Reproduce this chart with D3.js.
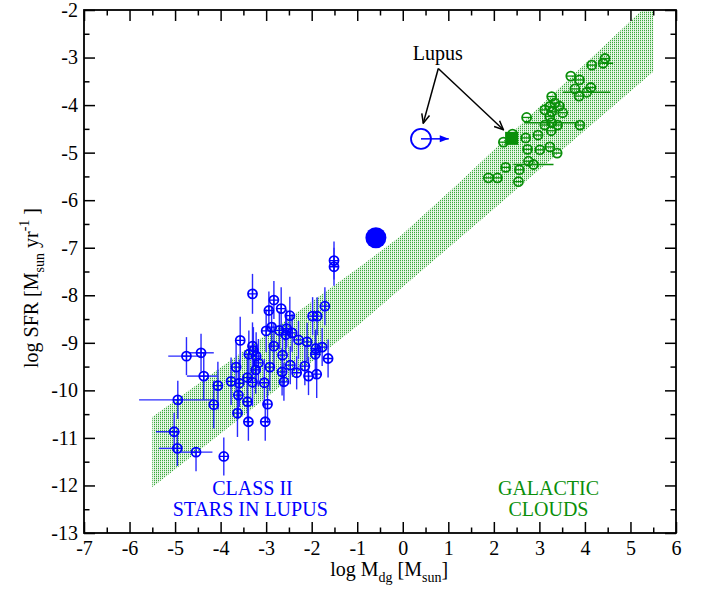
<!DOCTYPE html>
<html>
<head>
<meta charset="utf-8">
<script src="https://cdn.jsdelivr.net/npm/d3@7"></script>
<style>
  body { margin: 0; background: #fff; }
  text { font-family: "Liberation Serif", "Times New Roman", serif; }
</style>
</head>
<body>
<div id="chart"></div>
<script>
// SFR vs dust/gas mass: Class II disks in Lupus and Galactic clouds

// Lupus class II stars (blue)
var blueX = [-1.51, -1.51, -3.30, -2.83, -2.94, -2.67, -2.48, -1.71, -1.98, -1.88,
             -3.00, -2.88, -2.71, -2.55, -2.43, -2.57, -2.29, -2.10, -3.57, -2.83,
             -3.30, -1.91, -1.77, -3.38, -3.22, -3.28, -2.64, -1.92, -1.64, -3.17,
             -3.66, -2.92, -2.47, -2.15, -3.23, -2.65, -2.33, -2.07, -1.89, -3.41,
             -3.30, -3.04, -2.61, -3.77, -3.59, -3.61, -3.41, -2.97, -3.63, -3.39,
             -3.02, -4.06, -4.15, -4.37, -4.43, -4.75, -4.94, -5.02, -4.95, -4.54,
             -3.93];
var blueY = [-7.27, -7.40, -7.97, -8.10, -8.32, -8.28, -8.43, -8.23, -8.44, -8.44,
             -8.75, -8.67, -8.74, -8.70, -8.79, -8.83, -8.94, -8.98, -8.95, -9.07,
             -9.07, -9.12, -9.09, -9.24, -9.28, -9.17, -9.26, -9.24, -9.33, -9.42,
             -9.51, -9.51, -9.47, -9.49, -9.57, -9.61, -9.63, -9.70, -9.66, -9.73,
             -9.83, -9.84, -9.82, -9.81, -9.85, -10.10, -10.24, -10.29, -10.48, -10.66,
             -10.66, -9.90, -10.30, -9.70, -9.21, -9.28, -10.20, -10.87, -11.22, -11.30,
             -11.39];
var blueYErrUp = [0.4, 0.4, 0.42, 0.4, 0.4, 0.45, 0.4, 0.4, 0.4, 0.4,
                  0.45, 0.45, 0.4, 0.4, 0.4, 0.4, 0.4, 0.4, 0.5, 0.5,
                  0.5, 0.4, 0.4, 0.5, 0.5, 0.5, 0.5, 0.5, 0.4, 0.5,
                  0.5, 0.5, 0.4, 0.4, 0.5, 0.5, 0.35, 0.4, 0.5, 0.5,
                  0.5, 0.5, 0.4, 0.5, 0.5, 0.5, 0.5, 0.4, 0.5, 0.4,
                  0.4, 0.5, 0.5, 0.5, 0.4, 0.4, 0.4, 0.4, 0.37, 0,
                  0.4];
var blueYErrDn = [0.4, 0.4, 0.42, 0.4, 0.4, 0.45, 0.4, 0.4, 0.4, 0.4,
                  0.45, 0.45, 0.4, 0.4, 0.4, 0.4, 0.4, 0.4, 0.5, 0.5,
                  0.5, 0.4, 0.4, 0.5, 0.5, 0.5, 0.5, 0.5, 0.4, 0.5,
                  0.5, 0.5, 0.4, 0.4, 0.5, 0.5, 0.35, 0.4, 0.5, 0.5,
                  0.5, 0.5, 0.4, 0.5, 0.5, 0.5, 0.5, 0.4, 0.5, 0.4,
                  0.4, 0.5, 0.5, 0.5, 0.4, 0.4, 0.4, 0.4, 0.37, 0.4,
                  0.4];
// horizontal error bars (only the low-mass disks have them)
var blueXErrLo = [0,0,0,0,0,0,0,0,0,0, 0,0,0,0,0,0,0,0,0,0, 0,0,0,0,0,0,0,0,0,0,
                  0,0,0,0,0,0,0,0,0,0, 0,0,0,0,0,0,0,0,0,0,
                  0, 0, 0, 0.37, 0.28, 0.4, 0.85, 0.4, 0.4, 0.35, 0];
var blueXErrHi = [0,0,0,0,0,0,0,0,0,0, 0,0,0,0,0,0,0,0,0,0, 0,0,0,0,0,0,0,0,0,0,
                  0,0,0,0,0,0,0,0,0,0, 0,0,0,0,0,0,0,0,0,0,
                  0, 0, 0, 0.3, 0.28, 0.33, 0.78, 0.12, 0.1, 0.36, 0];

// Galactic clouds (green)
var greenX = [4.44, 4.40, 4.15, 3.69, 3.88, 3.78, 3.87, 4.04, 4.13, 3.27,
              3.12, 3.23, 3.34, 3.44, 3.51, 3.27, 3.23, 2.72, 3.12, 3.27,
              3.40, 3.26, 3.89, 2.97, 2.70, 2.21, 2.41, 2.74, 3.01, 3.23,
              3.39, 2.76, 2.87, 2.56, 2.26, 2.54, 1.88, 2.08];
var greenY = [-3.02, -3.12, -3.16, -3.39, -3.47, -3.66, -3.81, -3.73, -3.63, -3.82,
              -4.10, -4.03, -3.96, -4.02, -4.16, -4.14, -4.24, -4.26, -4.42, -4.37,
              -4.42, -4.54, -4.42, -4.63, -4.69, -4.78, -4.61, -4.93, -4.94, -4.88,
              -5.01, -5.18, -5.25, -5.36, -5.31, -5.61, -5.53, -5.53];
var greenXErrLo = [0, 0, 0, 0, 0, 0, 0, 0.52, 0, 0,
                   0, 0, 0, 0, 0, 0, 0, 0, 0, 0.6,
                   0, 0, 0, 0, 0, 0, 0, 0, 0, 0,
                   0, 0, 0.44, 0, 0, 0, 0, 0];
var greenXErrHi = [0, 0.22, 0, 0, 0, 0, 0, 0.52, 0, 0,
                   0, 0, 0, 0, 0, 0, 0, 0, 0, 0.6,
                   0, 0, 0, 0, 0, 0, 0, 0, 0, 0,
                   0, 0, 0.44, 0, 0, 0, 0, 0];

// Lupus cloud as a whole
var lupusDust = {x: -0.59, y: -6.79};   // filled blue circle
var lupusLimit = {x: 0.40, y: -4.71, xTo: 1.01};  // open circle, lower limit
var lupusCloud = {x: 2.39, y: -4.70};   // filled green square

// shaded relation band: edges
var bandX = [-5.5, -0.94, -0.08, 1.26, 5.5];
var bandHi = [-10.56, -7.40, -6.78, -5.61, -1.78];
var bandLo = [-12.04, -8.60, -7.89, -6.79, -3.30];

var xTicks = d3.range(-7, 7, 1);
var yTicks = d3.range(-13, -1, 1);

var blue = "#0000ff", green = "#0a8f0a";

var margin = {top: 10, right: 27, bottom: 57, left: 84},
  width = 703 - margin.left - margin.right,
  height = 590 - margin.top - margin.bottom;

var svg = d3.select("#chart")
  .append("svg")
    .attr("width", 703)
    .attr("height", 590);

var defs = svg.append("defs");
var pat = defs.append("pattern")
  .attr("id", "dots")
  .attr("width", 2).attr("height", 2)
  .attr("patternUnits", "userSpaceOnUse");
pat.append("rect").attr("width", 2).attr("height", 2).attr("fill", "#eaf7ea");
pat.append("rect").attr("width", 1).attr("height", 1).attr("fill", "#3aa83a");
pat.append("rect").attr("x", 0).attr("y", 1).attr("width", 1).attr("height", 1).attr("fill", "#bfe6bf");

defs.append("clipPath").attr("id", "clip")
  .append("rect").attr("width", width).attr("height", height);

function marker(id, color, filled) {
  var m = defs.append("marker")
    .attr("id", id)
    .attr("viewBox", "-10 -5 11 10")
    .attr("refX", 0).attr("refY", 0)
    .attr("markerWidth", 11).attr("markerHeight", 10)
    .attr("markerUnits", "userSpaceOnUse")
    .attr("orient", "auto");
  if (filled) {
    m.append("path").attr("d", "M-9,-3.5L0,0L-9,3.5Z").attr("fill", color);
  } else {
    m.append("path").attr("d", "M-9,-4L0,0L-9,4").attr("fill", "none")
      .attr("stroke", color).attr("stroke-width", 1.5);
  }
}
marker("arrBlack", "#000", false);
marker("arrBlue", blue, true);

var g = svg.append("g")
  .attr("transform", "translate(" + margin.left + "," + margin.top + ")");

var x = d3.scaleLinear().domain([-7, 6]).range([0, width]);
var y = d3.scaleLinear().domain([-13, -2]).range([height, 0]);

// band
var area = d3.area()
  .x(function(d) { return x(d[0]); })
  .y0(function(d) { return y(d[1]); })
  .y1(function(d) { return y(d[2]); });
g.append("path")
  .datum(bandX.map(function(v, i) { return [v, bandLo[i], bandHi[i]]; }))
  .attr("clip-path", "url(#clip)")
  .attr("fill", "url(#dots)")
  .attr("d", area);

// blue error bars
var bl = g.append("g").attr("stroke", "#2a2aff").attr("stroke-width", 1.4);
blueX.forEach(function(bx, i) {
  var by = blueY[i];
  if (blueYErrUp[i] + blueYErrDn[i] > 0)
    bl.append("line")
      .attr("x1", x(bx)).attr("x2", x(bx))
      .attr("y1", y(by + blueYErrUp[i])).attr("y2", y(by - blueYErrDn[i]));
  if (blueXErrLo[i] + blueXErrHi[i] > 0)
    bl.append("line")
      .attr("y1", y(by)).attr("y2", y(by))
      .attr("x1", x(bx - blueXErrLo[i])).attr("x2", x(bx + blueXErrHi[i]));
});

// green error bars
var gl = g.append("g").attr("stroke", green).attr("stroke-width", 1.5);
greenX.forEach(function(gx, i) {
  if (greenXErrLo[i] + greenXErrHi[i] > 0)
    gl.append("line")
      .attr("y1", y(greenY[i])).attr("y2", y(greenY[i]))
      .attr("x1", x(gx - greenXErrLo[i])).attr("x2", x(gx + greenXErrHi[i]));
});

var r = 4.5;

// blue symbols: circle with a cross
var bs = g.append("g").selectAll("g")
  .data(blueX.map(function(v, i) { return [v, blueY[i]]; }))
  .enter().append("g")
    .attr("transform", function(d) { return "translate(" + x(d[0]) + "," + y(d[1]) + ")"; });
bs.append("circle").attr("r", r).attr("fill", "none").attr("stroke", blue).attr("stroke-width", 1.8);
bs.append("path").attr("d", "M" + (-r) + ",0H" + r + "M0," + (-r) + "V" + r)
  .attr("stroke", blue).attr("stroke-width", 1.3);

// green symbols: circle with a bar
var gs = g.append("g").selectAll("g")
  .data(greenX.map(function(v, i) { return [v, greenY[i]]; }))
  .enter().append("g")
    .attr("transform", function(d) { return "translate(" + x(d[0]) + "," + y(d[1]) + ")"; });
gs.append("circle").attr("r", r).attr("fill", "none").attr("stroke", green).attr("stroke-width", 1.8);
gs.append("path").attr("d", "M" + (-r) + ",0H" + r)
  .attr("stroke", green).attr("stroke-width", 1.3);

// Lupus as a whole
g.append("rect")
  .attr("x", x(lupusCloud.x) - 6.5).attr("y", y(lupusCloud.y) - 6.5)
  .attr("width", 13).attr("height", 13)
  .attr("fill", green);

g.append("circle")
  .attr("cx", x(lupusDust.x)).attr("cy", y(lupusDust.y))
  .attr("r", 10.5).attr("fill", blue);

g.append("circle")
  .attr("cx", x(lupusLimit.x)).attr("cy", y(lupusLimit.y))
  .attr("r", 10).attr("fill", "none").attr("stroke", blue).attr("stroke-width", 1.8);
g.append("line")
  .attr("x1", x(lupusLimit.x)).attr("y1", y(lupusLimit.y))
  .attr("x2", x(lupusLimit.xTo)).attr("y2", y(lupusLimit.y))
  .attr("stroke", blue).attr("stroke-width", 1.5)
  .attr("marker-end", "url(#arrBlue)");

// "Lupus" label and arrows
g.append("text")
  .attr("x", x(0.77)).attr("y", y(-3.05))
  .attr("text-anchor", "middle")
  .style("font-size", "20px")
  .text("Lupus");
[[0.45, -4.38], [2.21, -4.52]].forEach(function(p) {
  g.append("line")
    .attr("x1", x(0.78)).attr("y1", y(-3.23))
    .attr("x2", x(p[0])).attr("y2", y(p[1]))
    .attr("stroke", "#000").attr("stroke-width", 1.5)
    .attr("marker-end", "url(#arrBlack)");
});

// group labels
var lab = g.append("g").style("font-size", "20px").attr("text-anchor", "middle");
lab.append("text").attr("x", x(-3.3)).attr("y", y(-12.2)).attr("fill", blue).text("CLASS II");
lab.append("text").attr("x", x(-3.35)).attr("y", y(-12.64)).attr("fill", blue).text("STARS IN LUPUS");
lab.append("text").attr("x", x(3.2)).attr("y", y(-12.2)).attr("fill", green).text("GALACTIC");
lab.append("text").attr("x", x(3.2)).attr("y", y(-12.64)).attr("fill", green).text("CLOUDS");

// axes: ticks pointing inward on all sides
function fmt(d) { return String(d); }
var xMinor = d3.range(-6.5, 6, 1), yMinor = d3.range(-12.5, -2, 1);

function styleAxis(sel) {
  sel.select(".domain").remove();
  sel.selectAll("line").attr("stroke-width", 1.5);
  sel.selectAll("text").style("font-size", "20px")
    .style("font-family", "'Liberation Serif', 'Times New Roman', serif")
    .attr("fill", "#000");
}

g.append("g").attr("transform", "translate(0," + height + ")")
  .call(d3.axisBottom(x).tickValues(xTicks).tickFormat(fmt).tickSize(-11).tickPadding(8))
  .call(styleAxis);
g.append("g").attr("transform", "translate(0," + height + ")")
  .call(d3.axisBottom(x).tickValues(xMinor).tickFormat("").tickSize(-5.5))
  .call(styleAxis);
g.append("g")
  .call(d3.axisTop(x).tickValues(xTicks).tickFormat("").tickSize(-11))
  .call(styleAxis);
g.append("g")
  .call(d3.axisTop(x).tickValues(xMinor).tickFormat("").tickSize(-5.5))
  .call(styleAxis);
g.append("g")
  .call(d3.axisLeft(y).tickValues(yTicks).tickFormat(fmt).tickSize(-11).tickPadding(6))
  .call(styleAxis);
g.append("g")
  .call(d3.axisLeft(y).tickValues(yMinor).tickFormat("").tickSize(-5.5))
  .call(styleAxis);
g.append("g").attr("transform", "translate(" + width + ",0)")
  .call(d3.axisRight(y).tickValues(yTicks).tickFormat("").tickSize(-11))
  .call(styleAxis);
g.append("g").attr("transform", "translate(" + width + ",0)")
  .call(d3.axisRight(y).tickValues(yMinor).tickFormat("").tickSize(-5.5))
  .call(styleAxis);

g.append("rect")
  .attr("width", width).attr("height", height)
  .attr("fill", "none").attr("stroke", "#000").attr("stroke-width", 1.8);

// x axis title
var xt = svg.append("text")
  .attr("x", margin.left + x(-0.3)).attr("y", 576)
  .attr("text-anchor", "middle")
  .style("font-size", "20px");
xt.append("tspan").text("log M");
xt.append("tspan").attr("dy", 6).style("font-size", "14px").text("dg");
xt.append("tspan").attr("dy", -6).text(" [M");
xt.append("tspan").attr("dy", 6).style("font-size", "14px").text("sun");
xt.append("tspan").attr("dy", -6).text("]");

// y axis title
var yt = svg.append("text")
  .attr("transform", "translate(38,288) rotate(-90)")
  .attr("text-anchor", "middle")
  .style("font-size", "20px");
yt.append("tspan").text("log SFR [M");
yt.append("tspan").attr("dy", 6).style("font-size", "14px").text("sun");
yt.append("tspan").attr("dy", -6).text(" yr");
yt.append("tspan").attr("dy", -9).style("font-size", "14px").text("-1");
yt.append("tspan").attr("dy", 9).text(" ]");
</script>
</body>
</html>
